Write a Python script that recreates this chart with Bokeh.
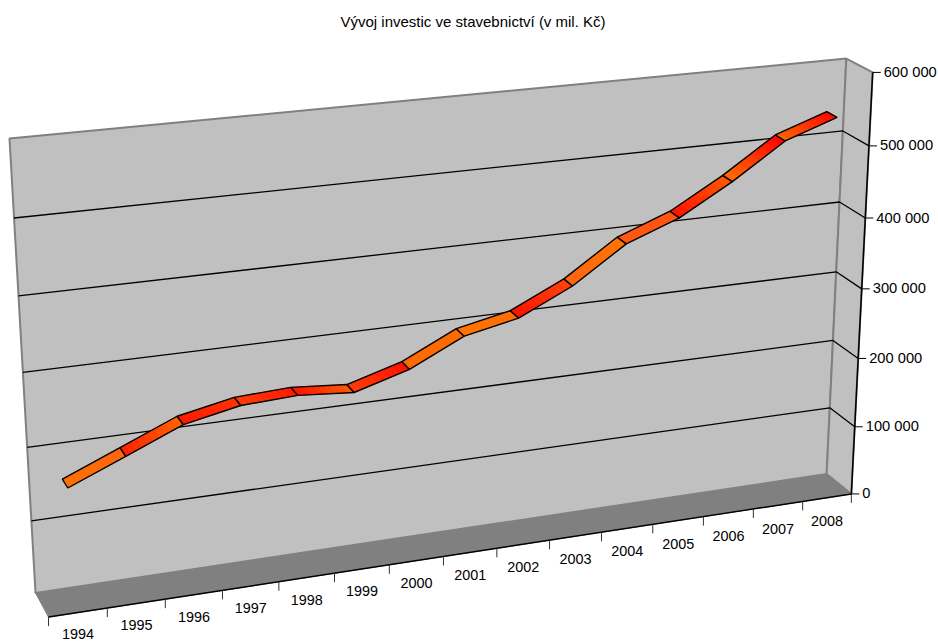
import numpy as np
from bokeh.core.properties import value
from bokeh.embed import file_html
from bokeh.models import Range1d
from bokeh.plotting import figure
from bokeh.resources import INLINE

TITLE = "Vývoj investic ve stavebnictví (v mil. Kč)"
years = ["1994", "1995", "1996", "1997", "1998", "1999", "2000", "2001",
         "2002", "2003", "2004", "2005", "2006", "2007", "2008"]
investment = [160500, 192300, 224400, 239900, 243500, 237400, 259200, 295100,
              310600, 345600, 394700, 422100, 463600, 511600, 536500]
value_ticks = [0, 100000, 200000, 300000, 400000, 500000, 600000]
value_labels = ["0", "100 000", "200 000", "300 000", "400 000", "500 000", "600 000"]
axis_max = 600000

# Start and end colour of each ribbon segment.
segment_colours = [
    ("#ff7000", "#ff6410"), ("#ff1e00", "#ff6400"), ("#ff1800", "#ff3000"),
    ("#ff3a08", "#ff1800"), ("#ff1000", "#ff5800"), ("#ff3a08", "#ff1000"),
    ("#ff6a00", "#ff6a00"), ("#ff7400", "#ff6c00"), ("#ff1000", "#ff4208"),
    ("#ff6410", "#ff7400"), ("#ff5510", "#ff5510"), ("#ff1000", "#ff5800"),
    ("#ff6c00", "#ff0000"), ("#ff6400", "#ff0600"),
]

# Perspective camera: (t along categories, v up the value axis, d towards viewer) to page pixels.
CAMERA = np.array([
    [877.7536617526955, -26.52170091682232, 12.12106329725334, 35.011205274140565],
    [-69.23629003689722, -462.3093951096325, 13.204929803125227, 592.4200857693164],
    [0.1048216106262636, -0.05702104116821438, -0.017788175554846575, 1.0],
])


def project(t, v, d):
    h = CAMERA @ np.array([t, v, d, 1.0])
    return h[0] / h[2], h[1] / h[2]


def polygon(corners):
    pts = [project(*c) for c in corners]
    return [q[0] for q in pts], [q[1] for q in pts]


p = figure(width=938, height=642, output_backend="svg", toolbar_location=None,
           x_range=Range1d(0, 938), y_range=Range1d(642, 0), min_border=0,
           outline_line_color=None, background_fill_color="white")
p.axis.visible = False
p.grid.visible = False

GREY = "#808080"
WALL = "#c0c0c0"
font = value("Liberation Sans")

# Floor and walls.
xs, ys = polygon([(0, 0, 0), (1, 0, 0), (1, 0, 1), (0, 0, 1)])
p.patch(xs, ys, fill_color=GREY, line_color=GREY, line_width=1)
xs, ys = polygon([(0, 0, 0), (1, 0, 0), (1, 1, 0), (0, 1, 0)])
p.patch(xs, ys, fill_color=WALL, line_color=GREY, line_width=2)
xs, ys = polygon([(1, 0, 0), (1, 0, 1), (1, 1, 1), (1, 1, 0)])
p.patch(xs, ys, fill_color=WALL, line_color=GREY, line_width=2)

# Gridlines run along the back wall and forward over the side wall.
for tick in value_ticks[1:-1]:
    v = tick / axis_max
    xs, ys = polygon([(0, v, 0), (1, v, 0), (1, v, 1)])
    p.line(xs, ys, line_color="black", line_width=1.3)

# Axis lines.
xs, ys = polygon([(0, 0, 1), (1, 0, 1), (1, 1, 1)])
p.line(xs, ys, line_color="black", line_width=1.5)

# Value axis ticks and labels.
for tick, label in zip(value_ticks, value_labels):
    x, y = project(1, tick / axis_max, 1)
    p.line([x, x + 8], [y, y], line_color="black", line_width=1)
    p.text([x + 11], [y - 0.5], text=[label], text_font=font, text_font_size="14.7px",
           text_color="black", text_baseline="middle", text_align="left")

# Category axis ticks and labels; the label gap widens slightly towards the far end.
n = len(years)
for k in range(n + 1):
    x, y = project(k / n, 0, 1)
    p.line([x, x], [y, y + 9], line_color="#333333", line_width=1)
for k, label in enumerate(years):
    x, y = project((k + 0.5) / n, 0, 1)
    p.text([x], [y + 21.4 + 2.4 * k / (n - 1)], text=[label], text_font=font, text_font_size="14.4px",
           text_color="black", text_baseline="middle", text_align="center")


def mix(a, b, f):
    ca = [int(a[i:i + 2], 16) for i in (1, 3, 5)]
    cb = [int(b[i:i + 2], 16) for i in (1, 3, 5)]
    return "#%02x%02x%02x" % tuple(round(u + (w - u) * f) for u, w in zip(ca, cb))


# Line series as a flat ribbon lying in the middle of the depth.
D_BACK, D_FRONT = 0.3, 0.7
SLICES = 10
for k in range(n - 1):
    t0, t1 = (k + 0.5) / n, (k + 1.5) / n
    v0, v1 = investment[k] / axis_max, investment[k + 1] / axis_max
    c0, c1 = segment_colours[k]
    for s in range(SLICES):
        f0, f1 = s / SLICES, (s + 1) / SLICES
        ta, tb = t0 + (t1 - t0) * f0, t0 + (t1 - t0) * f1
        va, vb = v0 + (v1 - v0) * f0, v0 + (v1 - v0) * f1
        colour = mix(c0, c1, (s + 0.5) / SLICES)
        xs, ys = polygon([(ta, va, D_BACK), (tb, vb, D_BACK), (tb, vb, D_FRONT), (ta, va, D_FRONT)])
        p.patch(xs, ys, fill_color=colour, line_color=colour, line_width=0.5)
    xs, ys = polygon([(t0, v0, D_BACK), (t1, v1, D_BACK), (t1, v1, D_FRONT), (t0, v0, D_FRONT)])
    p.patch(xs, ys, fill_color=None, line_color="black", line_width=1.4)

p.text([472.5], [21], text=[TITLE], text_font=font, text_font_size="15px",
       text_color="black", text_baseline="middle", text_align="center")

open("out.html", "w").write(file_html(p, INLINE))
